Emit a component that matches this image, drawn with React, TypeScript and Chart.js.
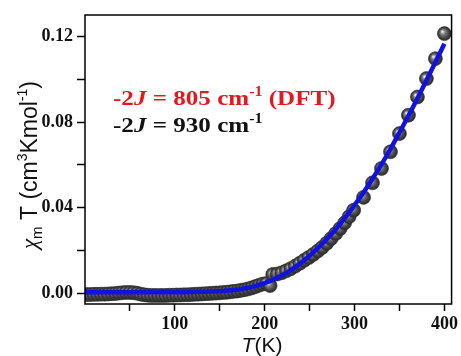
import React, { useEffect, useRef } from 'react';
import { Chart, registerables } from 'chart.js';

Chart.register(...registerables);

// ---- Data ----
const fitT = [0, 20, 40, 60, 80, 100, 120, 140, 150, 160, 170, 180, 190, 200, 210, 220, 230, 240, 250, 260, 270, 280, 290, 300, 310, 320, 330, 340, 350, 360, 370, 380, 390, 400];
const fitChiT = [0.0005, 0.0005, 0.0005, 0.0005, 0.0005, 0.0005, 0.0006, 0.0008, 0.001, 0.0013, 0.0018, 0.0025, 0.0035, 0.0048, 0.0065, 0.0086, 0.0111, 0.0141, 0.0176, 0.0214, 0.0257, 0.0304, 0.0356, 0.0412, 0.0471, 0.0535, 0.0602, 0.0674, 0.0751, 0.0829, 0.091, 0.0994, 0.1079, 0.1166];

const lowT = [2, 6, 10, 14, 18, 22, 26, 30, 34, 38, 42, 46, 50, 54, 58, 62, 66, 70, 74, 78, 82, 86, 90, 94, 98, 102, 106, 110, 114, 118, 122, 126, 130, 134, 138, 142, 146, 150, 154, 158, 162, 166, 170, 174, 178, 182, 186, 190, 194, 198, 202, 206];
const lowChiT = [-0.0006, -0.0006, -0.0005, -0.0005, -0.0004, -0.0004, -0.0003, -0.0002, -0.0001, 0.0001, 0.0003, 0.0004, 0.0004, 0.0003, 0.0, -0.0004, -0.0007, -0.0009, -0.001, -0.001, -0.001, -0.001, -0.001, -0.0009, -0.0009, -0.0008, -0.0008, -0.0007, -0.0007, -0.0006, -0.0005, -0.0004, -0.0003, -0.0002, -0.0001, 0.0, 0.0001, 0.0002, 0.0004, 0.0005, 0.0007, 0.0009, 0.0011, 0.0014, 0.0017, 0.0021, 0.0026, 0.0032, 0.0038, 0.0043, 0.0046, 0.0036];

const midT = [209, 214, 219, 224, 229, 234, 239, 244, 249, 254, 259, 264, 269, 274, 279, 284, 289, 294, 299];
const midChiT = [0.0088, 0.009, 0.0096, 0.0105, 0.0115, 0.0127, 0.014, 0.0154, 0.0167, 0.0181, 0.0197, 0.0214, 0.0234, 0.0256, 0.0279, 0.0303, 0.0329, 0.0358, 0.0388];

const highT = [310, 320, 330, 340, 350, 360, 370, 380, 390, 400];
const highChiT = [0.0448, 0.0516, 0.0583, 0.0661, 0.0746, 0.0832, 0.0917, 0.1003, 0.1096, 0.1213];

const xTickValues = [50, 100, 150, 200, 250, 300, 350, 400];
const xTickLabels = ['', '100', '', '200', '', '300', '', '400'];
const yTickValues = [0, 0.02, 0.04, 0.06, 0.08, 0.1, 0.12];
const yTickLabels = ['0.00', '', '0.04', '', '0.08', '', '0.12'];

const annotationDFT = { pre: '-2', j: 'J', mid: ' = 805 cm', sup: '-1', post: ' (DFT)' };
const annotationFit = { pre: '-2', j: 'J', mid: ' = 930 cm', sup: '-1', post: '' };

type Run = { t: string; font: string; dy?: number };

function drawRuns(ctx: CanvasRenderingContext2D, x: number, y: number, runs: Run[], align: 'left' | 'center' = 'left') {
  let total = 0;
  for (const r of runs) {
    ctx.font = r.font;
    total += ctx.measureText(r.t).width;
  }
  let cx = align === 'center' ? x - total / 2 : x;
  ctx.textBaseline = 'alphabetic';
  ctx.textAlign = 'left';
  for (const r of runs) {
    ctx.font = r.font;
    ctx.fillText(r.t, cx, y + (r.dy || 0));
    cx += ctx.measureText(r.t).width;
  }
}

const serifB = (s: number) => `bold ${s}px "Liberation Serif"`;
const serifBI = (s: number) => `italic bold ${s}px "Liberation Serif"`;
const sans = (s: number) => `${s}px "Liberation Sans"`;

const decorPlugin = {
  id: 'decor',
  afterDraw(chart: any) {
    const { ctx, chartArea } = chart;
    ctx.save();
    ctx.strokeStyle = '#000';
    ctx.lineWidth = 1.5;
    ctx.strokeRect(chartArea.left, chartArea.top, chartArea.right - chartArea.left, chartArea.bottom - chartArea.top);

    const ann = (a: typeof annotationDFT, color: string, y: number) => {
      ctx.save();
      ctx.fillStyle = color;
      ctx.translate(113, y);
      ctx.scale(1.14, 1);
      drawRuns(ctx, 0, 0, [
        { t: a.pre, font: serifB(22) },
        { t: a.j, font: serifBI(22) },
        { t: a.mid, font: serifB(22) },
        { t: a.sup, font: serifB(14), dy: -9 },
        { t: a.post, font: serifB(22) },
      ]);
      ctx.restore();
    };
    ann(annotationDFT, '#e3191f', 105);
    ann(annotationFit, '#111111', 132);

    ctx.fillStyle = '#111';
    drawRuns(ctx, 262, 352, [
      { t: 'T', font: 'italic ' + sans(21) },
      { t: '(K)', font: sans(21) },
    ], 'center');

    ctx.translate(37, 165);
    ctx.rotate(-Math.PI / 2);
    drawRuns(ctx, 0, 0, [
      { t: 'χ', font: 'italic 23px "Liberation Serif"' },
      { t: 'm', font: sans(15), dy: 5 },
      { t: ' T (cm', font: sans(23) },
      { t: '3', font: sans(14), dy: -10 },
      { t: 'Kmol', font: sans(23) },
      { t: '-1', font: sans(14), dy: -10 },
      { t: ')', font: sans(23) },
    ], 'center');
    ctx.restore();
  },
};

function sphere(c: any) {
  const chart = c.chart;
  const p = c.parsed;
  if (!p || !chart.scales || !chart.scales.x || !chart.scales.y) return '#444';
  const x = chart.scales.x.getPixelForValue(p.x);
  const y = chart.scales.y.getPixelForValue(p.y);
  if (!isFinite(x) || !isFinite(y)) return '#444';
  const g = chart.ctx.createRadialGradient(x - 2.2, y - 2.2, 0.3, x, y, 7);
  g.addColorStop(0, '#f0f0f0');
  g.addColorStop(0.3, '#828282');
  g.addColorStop(0.7, '#444444');
  g.addColorStop(1, '#2a2a2a');
  return g;
}

export default function App() {
  const ref = useRef<HTMLCanvasElement>(null);
  useEffect(() => {
    if (!ref.current) return;
    const pts = [
      ...lowT.map((t, i) => ({ x: t, y: lowChiT[i] })),
      ...midT.map((t, i) => ({ x: t, y: midChiT[i] })),
      ...highT.map((t, i) => ({ x: t, y: highChiT[i] })),
    ];
    const fit = fitT.map((t, i) => ({ x: t, y: fitChiT[i] }));
    const chart = new Chart(ref.current, {
      type: 'scatter',
      data: {
        datasets: [
          {
            type: 'line',
            data: fit,
            borderColor: '#1212e0',
            borderWidth: 4.5,
            pointRadius: 0,
            tension: 0.4,
            cubicInterpolationMode: 'monotone',
            fill: false,
            order: 0,
          } as any,
          {
            data: pts,
            pointRadius: 7,
            pointBackgroundColor: sphere,
            pointBorderColor: '#2e2e2e',
            pointBorderWidth: 0.6,
            order: 1,
          } as any,
        ],
      },
      options: {
        animation: false,
        responsive: false,
        layout: { padding: { top: 15, right: 6, left: 0, bottom: 0 }, autoPadding: false } as any,
        plugins: { legend: { display: false }, tooltip: { enabled: false } },
        scales: {
          x: {
            type: 'linear',
            min: 0,
            max: 408,
            afterBuildTicks: (s: any) => { s.ticks = xTickValues.map((v) => ({ value: v })); },
            afterFit: (s: any) => { s.height = 52; },
            ticks: {
              autoSkip: false,
              maxRotation: 0,
              color: '#111',
              padding: 3,
              font: { family: '"Liberation Serif"', weight: 'bold', size: 18 },
              callback: (_v: any, i: number) => xTickLabels[i],
            },
            grid: { display: true, drawOnChartArea: false, drawTicks: true, tickLength: 7, tickWidth: 1.5, color: '#000' },
            border: { display: false },
          },
          y: {
            type: 'linear',
            min: -0.005,
            max: 0.13,
            afterBuildTicks: (s: any) => { s.ticks = yTickValues.map((v) => ({ value: v })); },
            afterFit: (s: any) => { s.width = 85; },
            ticks: {
              autoSkip: false,
              color: '#111',
              padding: 4,
              font: { family: '"Liberation Serif"', weight: 'bold', size: 18 },
              callback: (_v: any, i: number) => yTickLabels[i],
            },
            grid: { display: true, drawOnChartArea: false, drawTicks: true, tickLength: 8, tickWidth: 1.5, color: '#000' },
            border: { display: false },
          },
        },
      },
      plugins: [decorPlugin],
    });
    return () => chart.destroy();
  }, []);
  return (
    <div style={{ position: 'fixed', left: 0, top: 0, width: 461, height: 356, background: '#fff' }}>
      <canvas ref={ref} width={461} height={356} style={{ display: 'block' }} />
    </div>
  );
}
